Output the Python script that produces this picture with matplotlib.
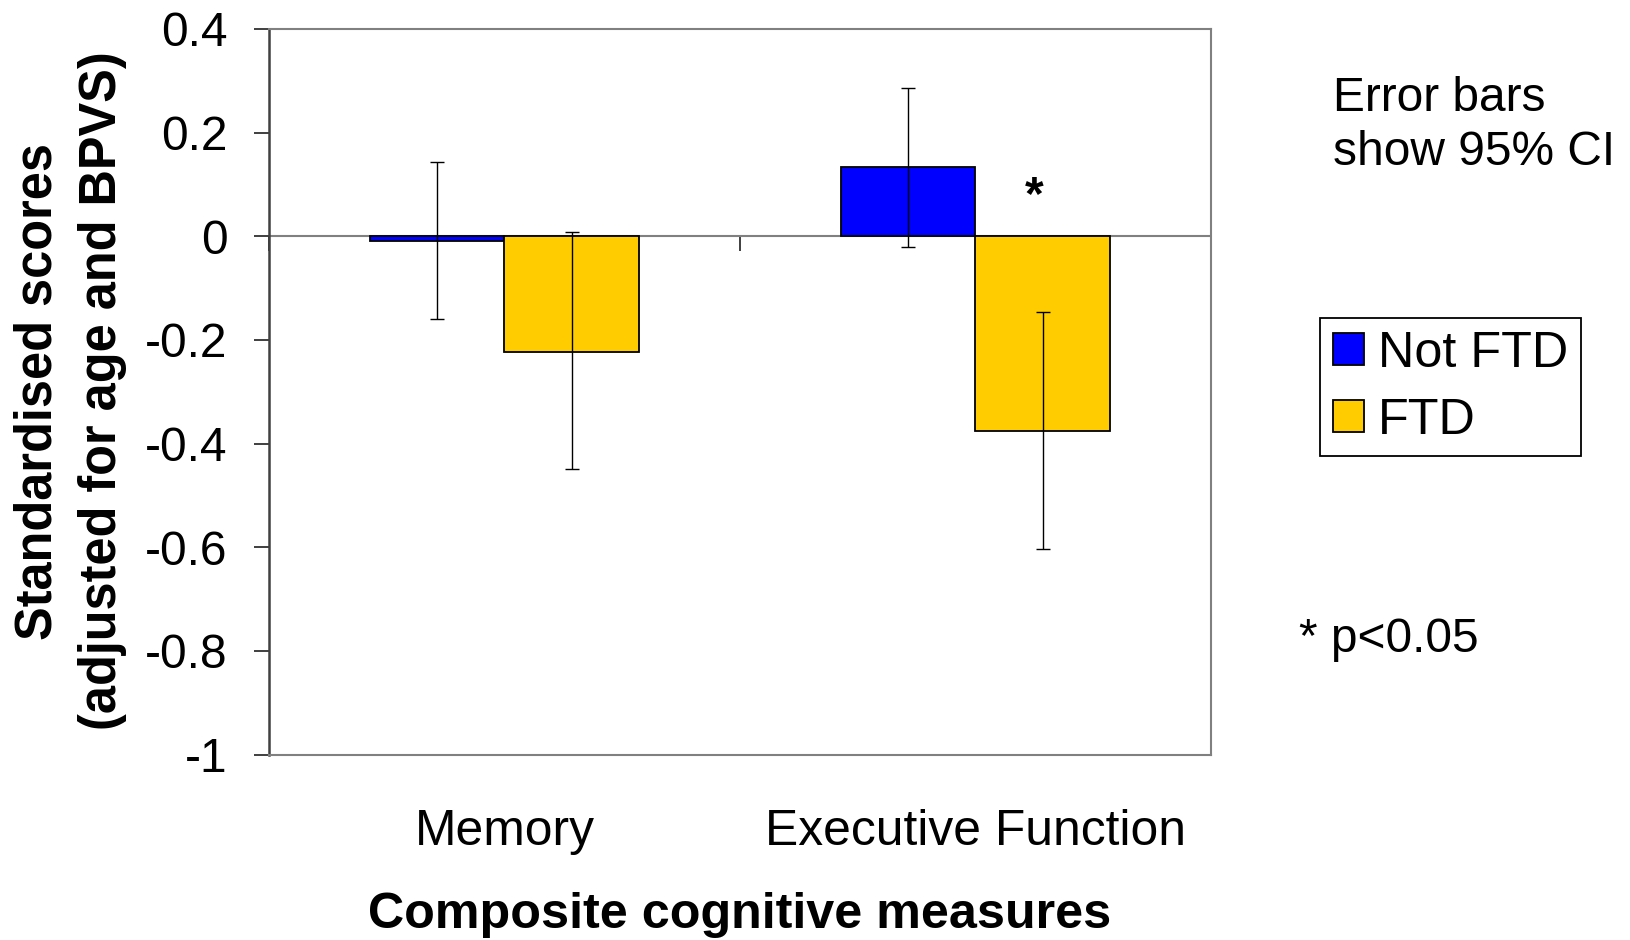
"""
Composite cognitive scores by FTD status, bar chart with 95% CI error bars
"""
import matplotlib
matplotlib.use('Agg')
import matplotlib.pyplot as plt
import numpy

plt.rcParams['font.family'] = ['Liberation Sans', 'DejaVu Sans']
plt.rcParams['axes.unicode_minus'] = False

# composite measures and group means (standardised, adjusted for age and BPVS)
categories = ['Memory', 'Executive Function']
groups = ['Not FTD', 'FTD']
not_ftd_means = [-0.01, 0.133]
ftd_means = [-0.223, -0.376]

# 95% confidence limits
not_ftd_lower = [-0.160, -0.020]
not_ftd_upper = [0.144, 0.287]
ftd_lower = [-0.450, -0.604]
ftd_upper = [0.008, -0.147]

y_ticks = [-1, -0.8, -0.6, -0.4, -0.2, 0, 0.2, 0.4]
colors = ['#0000FF', '#FFCC00']
font_size = 34.5
label_size = 35.8

fig = plt.figure(figsize=(16.31, 9.40), dpi=100)
ax = fig.add_axes([269 / 1631, 1 - 754.5 / 940, 942 / 1631, 725.5 / 940])

x = numpy.arange(len(categories))
width = 1 / 1.75 / 2  # excel style, 75% gap width

series = [(not_ftd_means, not_ftd_lower, not_ftd_upper),
          (ftd_means, ftd_lower, ftd_upper)]
for index, (means, lower, upper) in enumerate(series):
    means = numpy.array(means)
    yerr = [means - numpy.array(lower), numpy.array(upper) - means]
    positions = x + (index - 0.5) * width
    ax.bar(positions, means, width, color=colors[index], edgecolor='black',
           linewidth=1.3, label=groups[index], zorder=2)
    ax.errorbar(positions, means, yerr=yerr, fmt='none', ecolor='black',
                elinewidth=1.0, capsize=4.8, capthick=1.0, zorder=3)

# zero line with category separator ticks
ax.axhline(0, color='#808080', linewidth=1.5, zorder=1)
ax.set_xlim(-0.5, len(categories) - 0.5)
ax.set_ylim(y_ticks[0], y_ticks[-1])
zero_frac = (0 - y_ticks[0]) / (y_ticks[-1] - y_ticks[0])
zero_axis = ax.secondary_xaxis(zero_frac)
zero_axis.set_xticks(numpy.arange(len(categories) + 1) - 0.5)
zero_axis.tick_params(direction='out', length=11, width=1.3,
                      color='#303030', labelbottom=False, labeltop=False,
                      bottom=True, top=False)
for spine in zero_axis.spines.values():
    spine.set_visible(False)

# axes frame
for side in ['top', 'right', 'bottom']:
    ax.spines[side].set_color('#808080')
    ax.spines[side].set_linewidth(1.5)
ax.spines['left'].set_color('#404040')
ax.spines['left'].set_linewidth(1.8)

ax.set_yticks(y_ticks)
ax.set_yticklabels([f'{v:g}' for v in y_ticks])
ax.tick_params(axis='y', direction='out', length=11, width=1.3,
               color='#303030', pad=19, labelsize=font_size)
ax.set_xticks(x)
ax.set_xticklabels(categories)
ax.tick_params(axis='x', length=0, pad=39, labelsize=label_size)

ax.set_xlabel('Composite cognitive measures', fontsize=36.2,
              fontweight='bold', labelpad=27)
fig.text(70 / 1631, 1 - 391 / 940,
         'Standardised scores\n(adjusted for age and BPVS)',
         rotation=90, ha='center', va='center', multialignment='center',
         fontsize=36.4, fontweight='bold', linespacing=1.42)

# significance marker
ax.text(1.125, 0.053, '*', ha='center', va='baseline', fontsize=font_size,
        fontweight='bold')

fig.text(1333 / 1631, 1 - 125.5 / 940, 'Error bars\nshow 95% CI',
         ha='left', va='center', fontsize=font_size, linespacing=1.26)
fig.text(1299 / 1631, 1 - 640 / 940, '* p<0.05', ha='left', va='center',
         fontsize=font_size)

legend = fig.legend(loc='upper left', bbox_to_anchor=(1320 / 1631, 1 - 318 / 940),
                    fontsize=36.3, frameon=True, fancybox=False,
                    edgecolor='black', framealpha=1, borderaxespad=0,
                    borderpad=0.25, handlelength=0.62, handleheight=0.62,
                    handletextpad=0.28, labelspacing=0.42)
legend.get_frame().set_linewidth(1.3)

fig.savefig('out.png', dpi=100)
